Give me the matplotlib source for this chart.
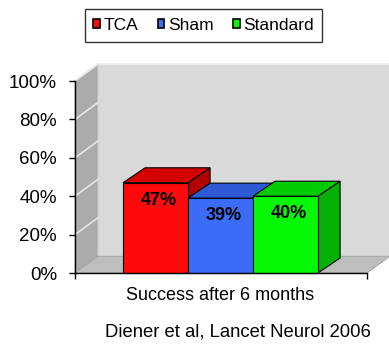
import matplotlib.pyplot as plt
from matplotlib.patches import Polygon, Patch

plt.rcParams['font.family'] = ['Liberation Sans', 'DejaVu Sans']

groups = ['TCA', 'Sham', 'Standard']
success = [47, 39, 40]
labels = ['47%', '39%', '40%']
front_colors = ['#ff0a0a', '#3a6cf6', '#06f806']
top_colors = ['#d40000', '#2f5ad6', '#04cc04']
side_colors = ['#b00000', '#2448b8', '#03b003']
yticks = [0, 20, 40, 60, 80, 100]

fig = plt.figure(figsize=(3.89, 3.49), dpi=100)
W, H = 389, 349
ax = fig.add_axes([75 / W, (349 - 273) / H, (367 - 75) / W, (273 - 81) / H])

x0, x1 = -1.238, 3.254
ax.set_xlim(x0, x1)
ax.set_ylim(0, 100)

# perspective offsets for the walls and the bars
dx, dy = 0.354, 8.8
bdx, bdy = 0.34, 7.8
width = 1.0


def poly(pts, fc, ec='none', lw=0.0, z=1):
    ax.add_patch(Polygon(pts, closed=True, facecolor=fc, edgecolor=ec,
                         linewidth=lw, clip_on=False, zorder=z))


# back wall, side wall and floor
poly([(x0 + dx, dy), (x1 + dx, dy), (x1 + dx, 100 + dy), (x0 + dx, 100 + dy)],
     '#d9d9d9', ec='#efefef', lw=1.2, z=0.5)
poly([(x0, 0), (x0 + dx, dy), (x0 + dx, 100 + dy), (x0, 100)],
     '#ababab', ec='#c8c8c8', lw=0.8, z=0.6)
poly([(x0, 0), (x1, 0), (x1 + dx, dy), (x0 + dx, dy)],
     '#bebebe', ec='#999999', lw=0.6, z=0.7)

for v in yticks[1:]:
    ax.plot([x0, x0 + dx], [v, v + dy], color='#e6e6e6', lw=1.2,
            clip_on=False, zorder=0.8)

# 3-D bars: side, top, then front face
for i, val in enumerate(success):
    l, r = i - width / 2, i + width / 2
    poly([(r, 0), (r + bdx, bdy), (r + bdx, val + bdy), (r, val)],
         side_colors[i], ec='black', lw=0.8, z=2)
    poly([(l, val), (r, val), (r + bdx, val + bdy), (l + bdx, val + bdy)],
         top_colors[i], ec='black', lw=0.8, z=2)
    ax.bar(i, val, width=width, color=front_colors[i], edgecolor='black',
           linewidth=0.8, zorder=3, clip_on=False)
    ax.text(i + 0.05, val - 9, labels[i], ha='center', va='center',
            fontsize=13, fontweight='bold', color='black', zorder=4)

for s in ['top', 'right']:
    ax.spines[s].set_visible(False)
ax.spines['left'].set_linewidth(1.0)
ax.spines['bottom'].set_linewidth(1.0)
ax.spines['left'].set_zorder(5)
ax.spines['bottom'].set_zorder(5)
ax.set_facecolor('none')

ax.set_yticks(yticks)
ax.set_yticklabels([f'{v}%' for v in yticks])
ax.tick_params(axis='y', direction='out', length=4, width=1, pad=9,
               labelsize=13.5)
ax.set_xticks([x0, x1])
ax.set_xticklabels(['', ''])
ax.tick_params(axis='x', direction='out', length=4, width=1)

fig.text(220.5 / W, 1 - 295 / H, 'Success after 6 months', ha='center',
         va='center', fontsize=13)
fig.text(237.5 / W, 1 - 332 / H, 'Diener et al, Lancet Neurol 2006',
         ha='center', va='center', fontsize=13.3)

handles = [Patch(facecolor=c, edgecolor='black', linewidth=1.2)
           for c in front_colors]
leg = fig.legend(handles, groups, loc='center', ncol=3,
                 bbox_to_anchor=(203.5 / W, 1 - 25.5 / H), fontsize=12.5,
                 frameon=True, fancybox=False, edgecolor='black',
                 handlelength=0.4, handleheight=0.4, handletextpad=0.2,
                 columnspacing=1.1, borderpad=0.5)
leg.get_frame().set_linewidth(1.0)

fig.savefig('out.png', dpi=100)
